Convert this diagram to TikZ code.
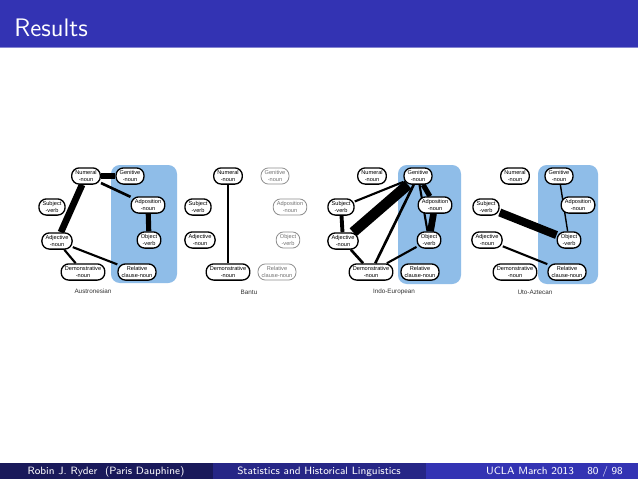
\documentclass[tikz,border=0pt]{standalone}
\usepackage{fontspec}
\newfontfamily\nodefont{Liberation Sans}
\definecolor{bblue}{RGB}{51,51,179}
\definecolor{panelblue}{RGB}{143,189,232}
\pgfdeclarelayer{bg}
\pgfdeclarelayer{back}
\pgfdeclarelayer{edges}
\pgfsetlayers{bg,back,edges,main}
\begin{document}
\begin{tikzpicture}[x=0.5687pt,y=-0.5687pt,
  nd/.style={draw, line width=0.75pt, rounded corners=4.3pt, align=center,
    font=\nodefont\fontsize{3.2}{3.6}\selectfont, inner xsep=2.1pt, inner ysep=1pt,
    minimum height=9.2pt, fill=white},
  gnd/.style={nd, draw=black!45, text=black!55, line width=0.45pt},
  lab/.style={font=\nodefont\fontsize{3.6}{4}\selectfont, text=black!80},
  panel/.style={fill=panelblue, rounded corners=5pt},
  ea/.style={line width=0.8pt},
  eb/.style={line width=1.2pt},
  ec/.style={line width=1.5pt},
  ed/.style={line width=2.2pt},
  ee/.style={line width=2.9pt},
  ef/.style={line width=3.8pt},
  eg/.style={line width=4.6pt},
  eh/.style={line width=6pt},
  foot/.style={font=\sffamily\fontsize{6}{7}\selectfont, text=white}
]
\useasboundingbox (0,0) rectangle (638,479);
\begin{pgfonlayer}{bg}
\fill[white] (0,0) rectangle (638,479);
\end{pgfonlayer}
% header
\fill[bblue] (0,0) rectangle (638,47);
\fill[bblue!60!white] (0,47) rectangle (638,48);
\node[anchor=base west, inner sep=0, font=\sffamily\fontsize{14.4}{17}\selectfont, text=white] (title) at (14,36) {Results};
% footer
\fill[bblue!50!black] (0,463) rectangle (213,479);
\fill[bblue!75!black] (213,463) rectangle (426,479);
\fill[bblue] (426,463) rectangle (638,479);
\node[foot, anchor=base] (fauth) at (106,474) {Robin J. Ryder\ \ (Paris Dauphine)};
\node[foot, anchor=base] (ftitle) at (319,474) {Statistics and Historical Linguistics};
\node[foot, anchor=base] (fdate) at (530,474) {UCLA March 2013};
\node[foot, anchor=base east] (fpage) at (629,474) {80 / 98};

\begin{pgfonlayer}{back}
\fill[panel] (111,165) rectangle (177,283);
\fill[panel] (398,165) rectangle (461,284);
\fill[panel] (538,165) rectangle (598,284);
\end{pgfonlayer}

% ---------- Panel 1: Austronesian
\node[nd] (aNum) at (86,176) {Numeral\\-noun};
\node[nd] (aGen) at (130,176) {Genitive\\-noun};
\node[nd] (aSub) at (52,207) {Subject\\-verb};
\node[nd] (aAdp) at (148,205) {Adposition\\-noun};
\node[nd] (aAdj) at (57,241) {Adjective\\-noun};
\node[nd] (aObj) at (149,240) {Object\\-verb};
\node[nd] (aDem) at (83,272) {Demonstrative\\-noun};
\node[nd] (aRel) at (137,272) {Relative\\clause-noun};
\node[lab] (aLab) at (93,291) {Austronesian};

% ---------- Panel 2: Bantu
\node[nd] (bNum) at (228,176) {Numeral\\-noun};
\node[gnd] (bGen) at (275,176) {Genitive\\-noun};
\node[nd] (bSub) at (198,207) {Subject\\-verb};
\node[gnd] (bAdp) at (290,207) {Adposition\\-noun};
\node[nd] (bAdj) at (200,240) {Adjective\\-noun};
\node[gnd] (bObj) at (288,240) {Object\\-verb};
\node[nd] (bDem) at (228,272) {Demonstrative\\-noun};
\node[gnd] (bRel) at (277,272) {Relative\\clause-noun};
\node[lab] (bLab) at (249,292) {Bantu};

% ---------- Panel 3: Indo-European
\node[nd] (cNum) at (372,176) {Numeral\\-noun};
\node[nd] (cGen) at (418,176) {Genitive\\-noun};
\node[nd] (cSub) at (341,207) {Subject\\-verb};
\node[nd] (cAdp) at (435,205) {Adposition\\-noun};
\node[nd] (cAdj) at (343,241) {Adjective\\-noun};
\node[nd] (cObj) at (429,240) {Object\\-verb};
\node[nd] (cDem) at (371,272) {Demonstrative\\-noun};
\node[nd] (cRel) at (420,272) {Relative\\clause-noun};
\node[lab] (cLab) at (394,292) {Indo-European};

% ---------- Panel 4: Uto-Aztecan
\node[nd] (dNum) at (515,176) {Numeral\\-noun};
\node[nd] (dGen) at (559,176) {Genitive\\-noun};
\node[nd] (dSub) at (486,207) {Subject\\-verb};
\node[nd] (dAdp) at (578,205) {Adposition\\-noun};
\node[nd] (dAdj) at (487,240) {Adjective\\-noun};
\node[nd] (dObj) at (569,240) {Object\\-verb};
\node[nd] (dDem) at (515,272) {Demonstrative\\-noun};
\node[nd] (dRel) at (567,272) {Relative\\clause-noun};
\node[lab] (dLab) at (535,292) {Uto-Aztecan};

\begin{pgfonlayer}{edges}
% Austronesian
\draw[ef] (aNum) -- (aGen);
\draw[ef] (aNum) -- (aAdj);
\draw[ec] (aNum) -- (aAdp);
\draw[ee] (aAdp) -- (aObj);
\draw[eb] (aAdj) -- (aDem);
\draw[eb] (aAdj) -- (aRel);
% Bantu
\draw[eb] (bNum) -- (bDem);
% Indo-European
\draw[eh] (cGen) -- (cAdj);
\draw[eb] (cGen) -- (cSub);
\draw[ec] (cGen) -- (cDem);
\draw[eb] (cGen) -- (cObj);
\draw[ee] (cGen) -- (cAdp);
\draw[ef] (cAdp) -- (cObj);
\draw[ed] (cSub) -- (cAdj);
\draw[ec] (cAdj) -- (cDem);
\draw[eb] (cDem) -- (cObj);
% Uto-Aztecan
\draw[eg] (dSub) -- (dObj);
\draw[ea] (dGen) -- (dObj);
\draw[eb] (dAdj) -- (dRel);
\end{pgfonlayer}
\end{tikzpicture}
\end{document}
